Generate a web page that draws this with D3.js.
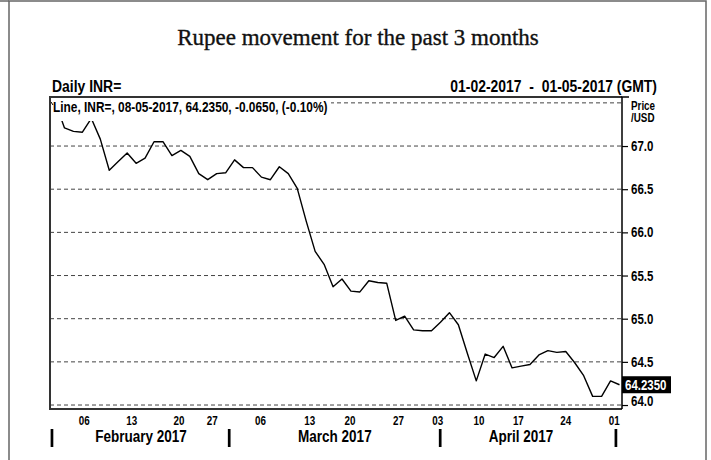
<!DOCTYPE html>
<html>
<head>
  <meta charset="utf-8">
  <title>Rupee movement for the past 3 months</title>
  <script src="https://cdn.jsdelivr.net/npm/d3@7"></script>
  <style>
    body {
      margin: 0;
      padding: 0;
      background-color: #fff;
    }
    .narrow {
      font-family: "Liberation Sans", Arial, sans-serif;
      font-weight: bold;
      fill: #000;
    }
    .title {
      font-family: "Liberation Serif", "Times New Roman", serif;
      fill: #111;
    }
    .grid line {
      stroke: #444;
      stroke-dasharray: 4,3;
      stroke-width: 1;
    }
  </style>
</head>
<body>
  <div id="vis"></div>
  <script>
    // daily USD/INR closes, one per trading day from 1 Feb 2017
    var rates = [
      67.50, 67.21, 67.17, 67.16, 67.32, 67.08, 66.72, 66.82, 66.92, 66.80,
      66.86, 67.05, 67.05, 66.89, 66.95, 66.88, 66.68, 66.61, 66.68, 66.69,
      66.84, 66.75, 66.75, 66.64, 66.61, 66.76, 66.68, 66.51, 66.13, 65.78,
      65.63, 65.37, 65.46, 65.32, 65.31, 65.44, 65.42, 65.41, 64.98, 65.03,
      64.87, 64.86, 64.86, 64.96, 65.07, 64.93, 64.60, 64.28, 64.59, 64.55,
      64.68, 64.43, 64.45, 64.47, 64.58, 64.63, 64.61, 64.62, 64.49, 64.34,
      64.10, 64.10, 64.28, 64.235
    ];

    // day labels along the bottom, placed by trading-day index
    var dayLabels = ["06", "13", "20", "27", "06", "13", "20", "27", "03", "10", "17", "24", "01"];
    var dayAt     = [3.2, 8.5, 13.8, 17.5, 22.9, 28.4, 32.9, 38.3, 42.7, 47.3, 51.7, 57.0, 62.4];

    var monthLabels = ["February 2017", "March 2017", "April 2017"];
    var monthMid    = [9.55, 31.2, 52.0];
    var monthBreaks = [-0.4, 19.4, 42.97, 62.6];

    var priceTicks = [64.0, 64.5, 65.0, 65.5, 66.0, 66.5, 67.0];
    var gridLevels = [64.0, 64.5, 65.0, 65.5, 66.0, 66.5, 67.0, 67.5];

    var lastQuote = "64.2350";
    var infoText = "Line, INR=, 08-05-2017, 64.2350, -0.0650, (-0.10%)";

    var width = 711, height = 460;
    var plot = { left: 50, right: 622, top: 97, bottom: 409 };
    var squeeze = 0.82; // condensed look of the original lettering

    var svg = d3.select("#vis").append("svg")
      .attr("width", width)
      .attr("height", height);

    function narrow(parent, x, y, size, str, anchor) {
      return parent.append("text")
        .attr("class", "narrow")
        .attr("transform", "translate(" + x + "," + y + ") scale(" + squeeze + ",1)")
        .attr("text-anchor", anchor || "start")
        .style("font-size", size + "px")
        .text(str);
    }

    // outer frame
    svg.append("rect")
      .attr("x", 9).attr("y", 1)
      .attr("width", 697).attr("height", 480)
      .attr("fill", "none")
      .attr("stroke", "#666")
      .attr("stroke-width", 1.5);
    svg.append("line")
      .attr("x1", 0).attr("x2", 9).attr("y1", 1).attr("y2", 1)
      .attr("stroke", "#666").attr("stroke-width", 1.5);

    svg.append("text")
      .attr("class", "title")
      .attr("x", 358).attr("y", 45)
      .attr("text-anchor", "middle")
      .style("font-size", "23px")
      .style("stroke", "#111")
      .style("stroke-width", 0.35)
      .text("Rupee movement for the past 3 months");

    narrow(svg, 52, 92, 17, "Daily INR=");
    narrow(svg, 657, 92, 17, "01-02-2017  -  01-05-2017 (GMT)", "end")
      .style("white-space", "pre");

    var x = d3.scaleLinear()
      .domain([-0.62, 63.28])
      .range([plot.left, plot.right]);

    var y = d3.scaleLinear()
      .domain([63.954, 67.568])
      .range([plot.bottom, plot.top]);

    // dashed grid
    svg.append("g")
        .attr("class", "grid")
      .selectAll("line")
      .data(gridLevels)
      .enter().append("line")
        .attr("x1", plot.left).attr("x2", plot.right)
        .attr("y1", function(d) { return y(d); })
        .attr("y2", function(d) { return y(d); });

    svg.append("clipPath").attr("id", "clip")
      .append("rect")
        .attr("x", plot.left).attr("y", plot.top)
        .attr("width", plot.right - plot.left)
        .attr("height", plot.bottom - plot.top);

    var line = d3.line()
      .x(function(d, i) { return x(i); })
      .y(function(d) { return y(d); });

    svg.append("path")
      .datum(rates)
      .attr("clip-path", "url(#clip)")
      .attr("d", line)
      .attr("fill", "none")
      .attr("stroke", "#000")
      .attr("stroke-width", 1.4)
      .attr("stroke-linejoin", "round");

    // info strip over the top of the plot
    svg.append("rect")
      .attr("x", plot.left + 1).attr("y", plot.top + 1)
      .attr("width", 280).attr("height", 23)
      .attr("fill", "#fff");
    svg.append("line")
      .attr("x1", 51).attr("x2", 53).attr("y1", 102).attr("y2", 105)
      .attr("stroke", "#000").attr("stroke-width", 1);
    narrow(svg, 53, 112, 14.5, infoText);

    // plot border
    svg.append("path")
      .attr("d", "M" + plot.right + "," + plot.top + "H" + plot.left + "V" + plot.bottom + "H" + plot.right)
      .attr("fill", "none")
      .attr("stroke", "#333")
      .attr("stroke-width", 2);

    // right price axis
    var yAxis = d3.axisRight(y)
      .tickValues(priceTicks)
      .tickSize(6)
      .tickFormat(d3.format(".1f"));

    var ay = svg.append("g")
      .attr("transform", "translate(" + plot.right + ",0)")
      .call(yAxis);
    ay.select(".domain")
      .attr("d", "M7," + plot.top + "H0V" + plot.bottom)
      .attr("stroke", "#000")
      .attr("stroke-width", 1.5);
    ay.selectAll(".tick line").attr("stroke", "#000").attr("stroke-width", 1.2);
    ay.selectAll(".tick text")
      .attr("class", "narrow")
      .attr("x", 0)
      .attr("transform", function(d) {
        var shift = Math.min(y(d), plot.bottom - 7.5) - y(d);
        return "translate(9," + shift + ") scale(" + squeeze + ",1)";
      })
      .style("font-size", "14px");

    narrow(svg, 631, 109.5, 12, "Price");
    narrow(svg, 631, 121.5, 12, "/USD");

    // last price flag
    var lastY = y(rates[rates.length - 1]);
    svg.append("rect")
      .attr("x", plot.right).attr("y", lastY - 8.5)
      .attr("width", 49).attr("height", 17)
      .attr("fill", "#000");
    narrow(svg, plot.right + 3, lastY + 5, 14, lastQuote)
      .style("fill", "#fff");

    // bottom day labels
    var days = svg.append("g");
    dayLabels.forEach(function(d, i) {
      narrow(days, x(dayAt[i]), 425, 12, d, "middle");
    });

    svg.append("g")
      .selectAll("line")
      .data(monthBreaks)
      .enter().append("line")
        .attr("x1", function(d) { return x(d); })
        .attr("x2", function(d) { return x(d); })
        .attr("y1", 429).attr("y2", 447)
        .attr("stroke", "#000")
        .attr("stroke-width", 2.7);

    var months = svg.append("g");
    monthLabels.forEach(function(d, i) {
      narrow(months, x(monthMid[i]), 442, 16.5, d, "middle");
    });
  </script>
</body>
</html>
